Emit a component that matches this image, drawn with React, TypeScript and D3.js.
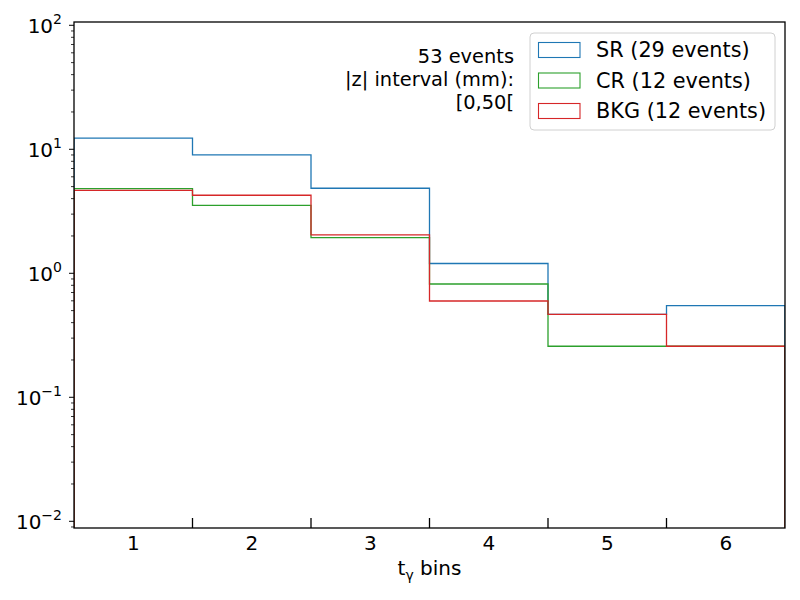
import React from 'react'
import * as d3 from 'd3'

const bins = [1, 2, 3, 4, 5, 6]
const srValues = [12.3, 9.0, 4.85, 1.2, 0.467, 0.548]
const crValues = [4.81, 3.53, 1.94, 0.82, 0.258, 0.258]
const bkgValues = [4.67, 4.26, 2.04, 0.598, 0.467, 0.258]
const seriesNames = ['SR (29 events)', 'CR (12 events)', 'BKG (12 events)']
const seriesColors = ['#1f77b4', '#2ca02c', '#d62728']
const majorExponents = [-2, -1, 0, 1, 2]
const infoLines = ['53 events', '|z| interval (mm):', '[0,50[']

const W = 800
const H = 600
const margin = { top: 22, right: 15, bottom: 72, left: 74 }
const FONT = 'DejaVu Sans, sans-serif'

const App = () => {
    const x = d3.scaleLinear()
        .domain([0.5, 6.5])
        .range([margin.left, W - margin.right])
    const y = d3.scaleLog()
        .domain([0.00883, 106.3])
        .range([H - margin.bottom, margin.top])

    const [y0, y1] = y.range()
    const bottom = y0

    const stepPath = (values: number[]) => {
        const pts: [number, number][] = [[x(0.5), bottom]]
        values.forEach((v, i) => {
            pts.push([x(bins[i] - 0.5), y(v)])
            pts.push([x(bins[i] + 0.5), y(v)])
        })
        pts.push([x(6.5), bottom])
        return d3.line()(pts)!
    }

    const series = [srValues, crValues, bkgValues]

    const minorTicks: number[] = []
    for (let e = -3; e <= 2; e++) {
        for (let m = 2; m <= 9; m++) {
            const v = m * Math.pow(10, e)
            const [lo, hi] = y.domain()
            if (v >= lo && v <= hi) minorTicks.push(v)
        }
    }

    const edges = d3.range(1.5, 6, 1)

    return (
        <svg width={W} height={H} style={{ position: 'absolute', left: 0, top: 0 }} fontFamily={FONT}>
            <rect width={W} height={H} fill="#fff" />
            <defs>
                <clipPath id="plot">
                    <rect x={margin.left} y={y1} width={x(6.5) - x(0.5)} height={y0 - y1} />
                </clipPath>
            </defs>

            <g clipPath="url(#plot)">
                {series.map((vals, i) => (
                    <path key={i} d={stepPath(vals)} fill="none" stroke={seriesColors[i]} strokeWidth={1.3} />
                ))}
            </g>

            {/* y axis ticks */}
            {majorExponents.map(e => {
                const yy = y(Math.pow(10, e))
                return (
                    <g key={e}>
                        <line x1={margin.left - 5} x2={margin.left} y1={yy} y2={yy} stroke="#000" strokeWidth={1} />
                        <text x={margin.left - 12} y={yy + 7.5} fontSize={20} textAnchor="end">
                            <tspan>10</tspan>
                            <tspan dy={-9} fontSize={14}>{e < 0 ? '\u2212' + Math.abs(e) : String(e)}</tspan>
                        </text>
                    </g>
                )
            })}
            {minorTicks.map((v, i) => (
                <line key={i} x1={margin.left - 3} x2={margin.left} y1={y(v)} y2={y(v)} stroke="#000" strokeWidth={0.8} />
            ))}

            {/* x axis ticks (bin edges, inward) */}
            {edges.map(b => (
                <line key={b} x1={x(b)} x2={x(b)} y1={bottom} y2={bottom - 10} stroke="#000" strokeWidth={1.3} />
            ))}
            {bins.map(b => (
                <text key={b} x={x(b)} y={bottom + 22} fontSize={20} textAnchor="middle">{b}</text>
            ))}

            <text x={(x(0.5) + x(6.5)) / 2} y={575} fontSize={20} textAnchor="middle">
                <tspan>t</tspan>
                <tspan dy={5} fontSize={14}>γ</tspan>
                <tspan dy={-5}> bins</tspan>
            </text>

            {/* frame */}
            <rect x={margin.left} y={y1} width={x(6.5) - x(0.5)} height={y0 - y1} fill="none" stroke="#000" strokeWidth={1.3} />

            {/* info text */}
            {infoLines.map((t, i) => (
                <text key={i} x={514} y={63 + i * 23} fontSize={19.4} textAnchor="end">{t}</text>
            ))}

            {/* legend */}
            <rect x={530} y={33} width={245} height={97} rx={4} fill="#fff" fillOpacity={0.8} stroke="#d0d0d0" />
            {seriesNames.map((name, i) => (
                <g key={name} transform={`translate(0, ${i * 30.5})`}>
                    <rect x={538.5} y={42.5} width={41.5} height={15} fill="none" stroke={seriesColors[i]} strokeWidth={1.1} />
                    <text x={596} y={57} fontSize={20.8}>{name}</text>
                </g>
            ))}
        </svg>
    )
}

export default App
